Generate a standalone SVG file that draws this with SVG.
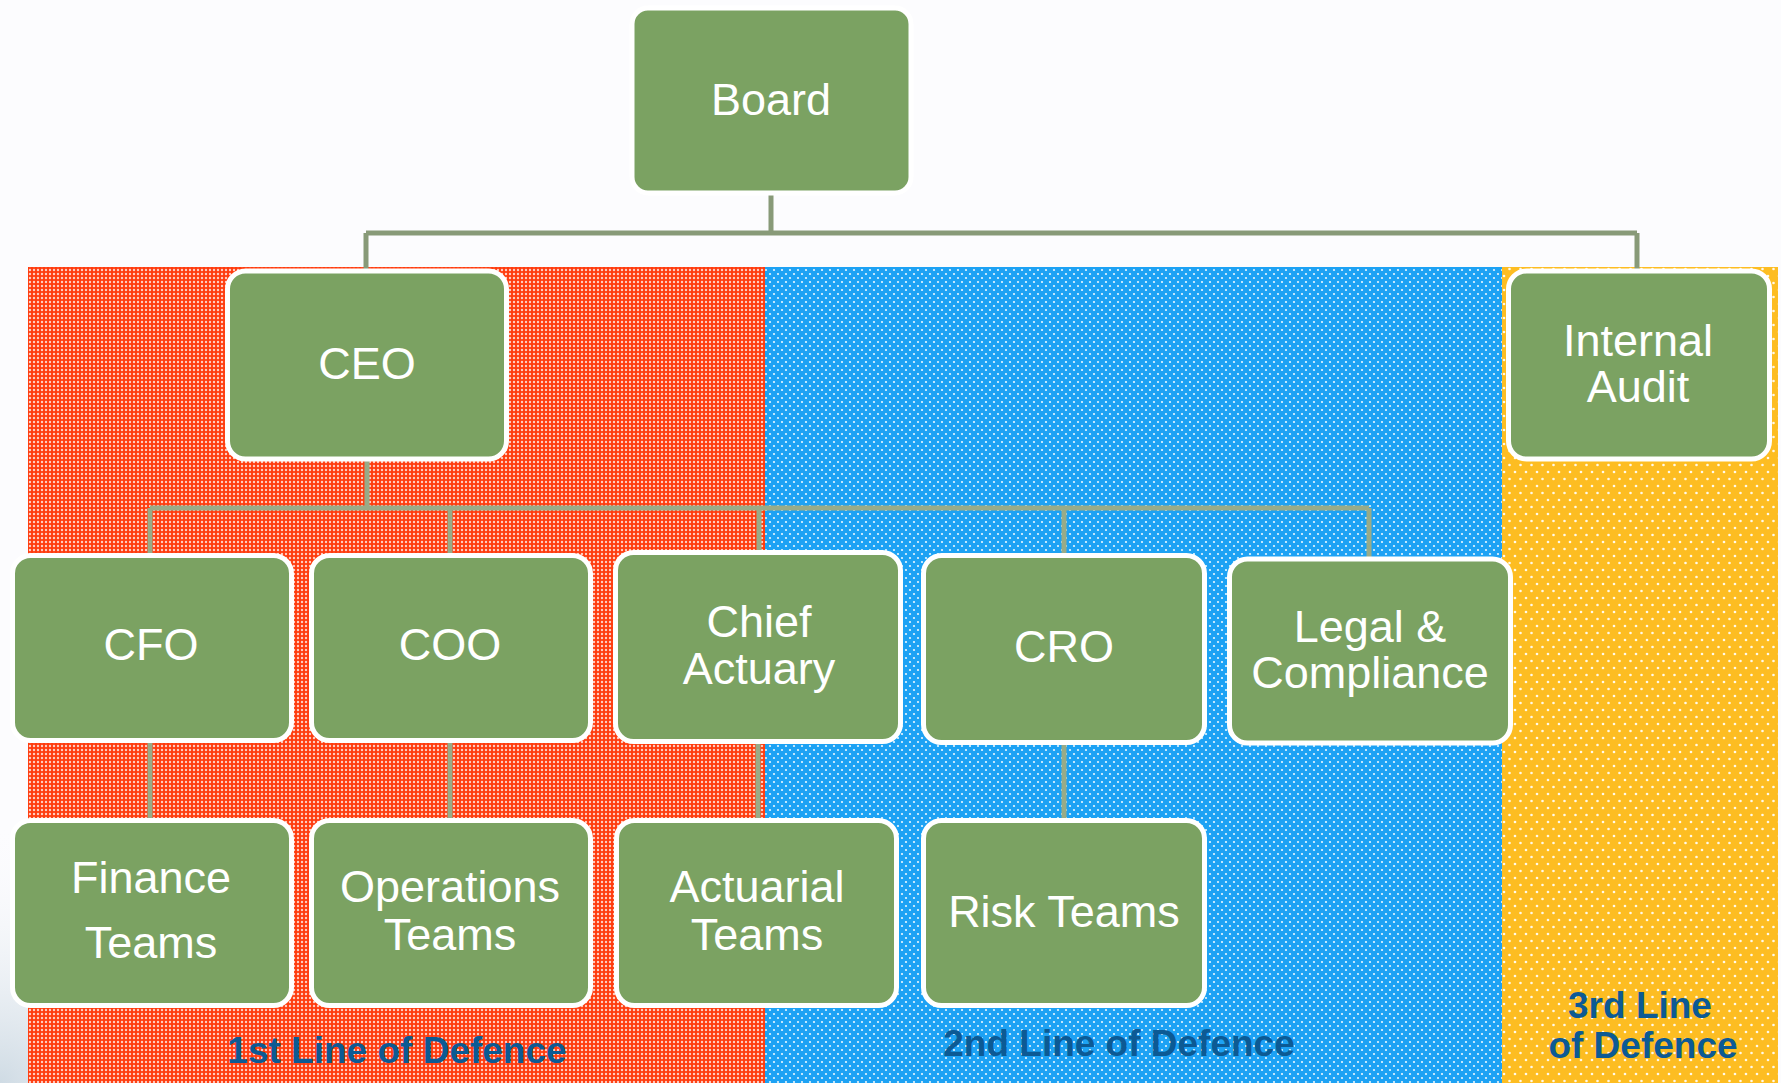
<svg xmlns="http://www.w3.org/2000/svg" width="1781" height="1083" viewBox="0 0 1781 1083">
  <style>
    .node rect { fill: #7ba262; stroke: #ffffff; stroke-width: 5; }
    .node text { fill: #ffffff; font-family: "Liberation Sans", Arial, sans-serif; font-size: 45px; text-anchor: middle; }
    .conn { stroke: #98ab88; stroke-width: 5; fill: none; }
    .conn-top { stroke: #889a78; }
    .band-label { fill: #0c5a94; font-family: "Liberation Sans", Arial, sans-serif; font-size: 37px; font-weight: bold; text-anchor: middle; }
  </style>
  <defs>
    <!-- dotted fills for the three bands -->
    <pattern id="dotsRed" width="4" height="4" patternUnits="userSpaceOnUse">
      <rect width="4" height="4" fill="#ff3c0e"/>
      <circle cx="2" cy="2" r="1.2" fill="#ffffff" fill-opacity="0.75"/>
    </pattern>
    <pattern id="dotsBlue" width="8" height="8" patternUnits="userSpaceOnUse">
      <rect width="8" height="8" fill="#1da2f4"/>
      <circle cx="2" cy="2" r="1.1" fill="#ffffff" fill-opacity="0.9"/>
      <circle cx="6" cy="6" r="1.1" fill="#ffffff" fill-opacity="0.9"/>
    </pattern>
    <pattern id="dotsYellow" width="11" height="14" patternUnits="userSpaceOnUse">
      <rect width="11" height="14" fill="#fdbd22"/>
      <circle cx="2.5" cy="3" r="1.3" fill="#ffffff" fill-opacity="0.9"/>
      <circle cx="8" cy="10" r="1.3" fill="#ffffff" fill-opacity="0.9"/>
    </pattern>
    <radialGradient id="cornerShade" cx="0" cy="1083" r="260" gradientUnits="userSpaceOnUse">
      <stop offset="0" stop-color="#cfdbe4"/>
      <stop offset="1" stop-color="#fcfcfe" stop-opacity="0"/>
    </radialGradient>
  </defs>

  <!-- page -->
  <rect width="1781" height="1083" fill="#fcfcfe"/>
  <rect x="0" y="780" width="300" height="303" fill="url(#cornerShade)"/>

  <!-- lines of defence bands -->
  <g id="bands">
    <rect x="28" y="267" width="737" height="816" fill="url(#dotsRed)"/>
    <rect x="765" y="267" width="737" height="816" fill="url(#dotsBlue)"/>
    <rect x="1502" y="267" width="276" height="816" fill="url(#dotsYellow)"/>
  </g>

  <!-- connectors -->
  <g id="connectors">
    <path class="conn conn-top" d="M771 193 V233 M366 233 H1637 M366 233 V269 M1637 233 V269"/>
    <path class="conn" d="M367 461 V508 M150 508 H1369 M150 508 V553 M450 508 V553 M759 508 V550 M1064 508 V553 M1369 508 V557"/>
    <path class="conn" d="M150 742 V818 M450 742 V818 M758 743 V818 M1064 744 V818"/>
  </g>

  <!-- nodes -->
  <g id="board" class="node">
    <rect x="632" y="8" width="279" height="185" rx="16"/>
    <text x="771" y="115">Board</text>
  </g>
  <g id="ceo" class="node">
    <rect x="227.5" y="271" width="279" height="188" rx="18"/>
    <text x="367" y="379">CEO</text>
  </g>
  <g id="internal-audit" class="node">
    <rect x="1508.5" y="271" width="261" height="188" rx="18"/>
    <text x="1638" y="356">Internal</text>
    <text x="1638" y="402">Audit</text>
  </g>
  <g id="cfo" class="node">
    <rect x="12.5" y="555.5" width="279" height="185" rx="18"/>
    <text x="151" y="660">CFO</text>
  </g>
  <g id="coo" class="node">
    <rect x="311.5" y="555.5" width="279" height="185" rx="18"/>
    <text x="450" y="660">COO</text>
  </g>
  <g id="chief-actuary" class="node">
    <rect x="615.5" y="552.5" width="285" height="189" rx="18"/>
    <text x="759" y="637">Chief</text>
    <text x="759" y="684">Actuary</text>
  </g>
  <g id="cro" class="node">
    <rect x="923.5" y="555.5" width="281" height="187" rx="18"/>
    <text x="1064" y="662">CRO</text>
  </g>
  <g id="legal-compliance" class="node">
    <rect x="1229.5" y="559" width="281" height="184" rx="18"/>
    <text x="1370" y="642">Legal &amp;</text>
    <text x="1370" y="688">Compliance</text>
  </g>
  <g id="finance-teams" class="node">
    <rect x="12.5" y="820.5" width="279" height="185" rx="18"/>
    <text x="151" y="893">Finance</text>
    <text x="151" y="958">Teams</text>
  </g>
  <g id="operations-teams" class="node">
    <rect x="311.5" y="820.5" width="279" height="185" rx="18"/>
    <text x="450" y="902">Operations</text>
    <text x="450" y="950">Teams</text>
  </g>
  <g id="actuarial-teams" class="node">
    <rect x="616.5" y="820.5" width="280" height="185" rx="18"/>
    <text x="757" y="902">Actuarial</text>
    <text x="757" y="950">Teams</text>
  </g>
  <g id="risk-teams" class="node">
    <rect x="923.5" y="820.5" width="281" height="185" rx="18"/>
    <text x="1064" y="927">Risk Teams</text>
  </g>

  <!-- band captions -->
  <g id="band-labels">
    <text class="band-label" x="397" y="1063">1st Line of Defence</text>
    <text class="band-label" x="1119" y="1056">2nd Line of Defence</text>
    <text class="band-label" x="1640" y="1018">3rd Line</text>
    <text class="band-label" x="1643" y="1058">of Defence</text>
  </g>
</svg>
